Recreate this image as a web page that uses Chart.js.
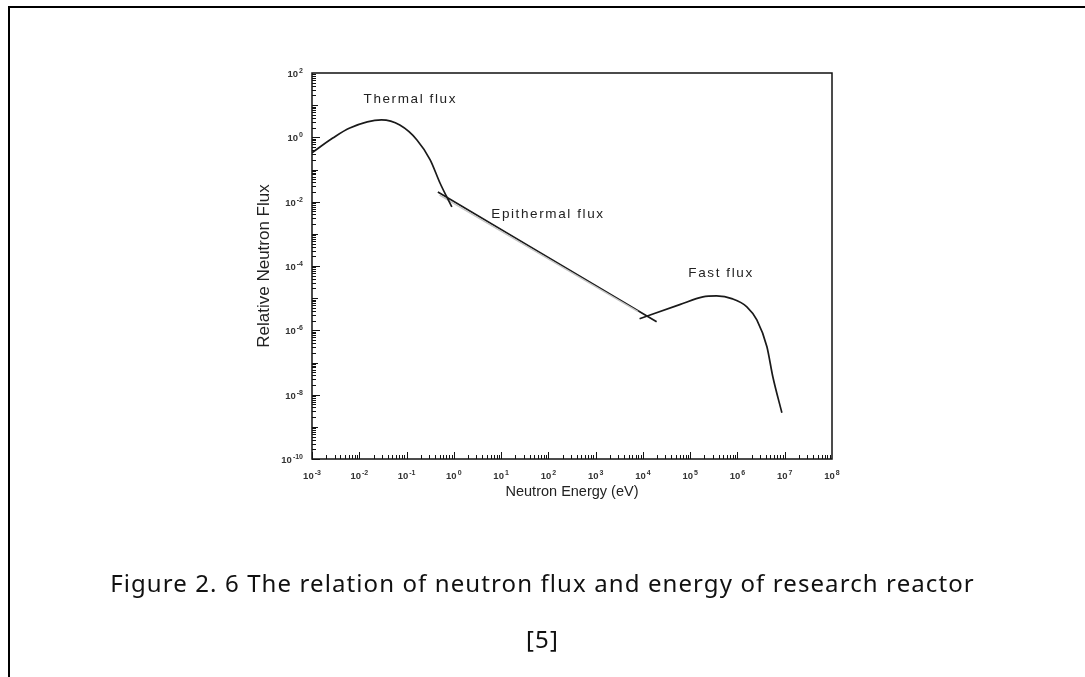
<!DOCTYPE html>
<html>
<head>
<meta charset="utf-8">
<script src="https://cdn.jsdelivr.net/npm/chart.js@4/dist/chart.umd.min.js"></script>
<style>
  body { margin: 0; background: #fff; }
  #wrap { position: relative; width: 1085px; height: 677px; overflow: hidden; }
  #chart { position: absolute; left: 0; top: 0; }
  .frameTop { position: absolute; left: 8px; top: 6px; width: 1090px; height: 2px; background: #000; }
  .frameLeft { position: absolute; left: 8px; top: 6px; width: 2px; height: 680px; background: #000; }
  .caption { position: absolute; left: 0; width: 1085px; text-align: center;
             font-family: "Noto Sans", sans-serif; font-size: 24px; letter-spacing: 1.1px; color: #111; }
</style>
</head>
<body>
<div id="wrap">
  <canvas id="chart" width="1085" height="677"></canvas>
  <div class="frameTop"></div>
  <div class="frameLeft"></div>
  <div class="caption" style="top:566px">Figure 2. 6 The relation of neutron flux and energy of research reactor</div>
  <div class="caption" style="top:622px">[5]</div>
</div>
<script>
// energies (eV) and relative flux
const thermalEnergy = [1e-3, 2.75e-3, 6.3e-3, 2.95e-2, 7.2e-2, 1.66e-1, 3.16e-1, 5.1e-1, 7.1e-1, 9.1e-1];
const thermalFlux   = [3.3e-1, 9.5e-1, 1.95, 3.47, 2.4, 8.3e-1, 2.0e-1, 3.8e-2, 1.4e-2, 6.9e-3];

const epiEnergy = [4.6e-1, 1.95e4];
const epiFlux   = [2.0e-2, 1.86e-6];

// faint second trace just under the epithermal line
const epiFitEnergy = [5.0e-1, 7.9e3];
const epiFitFlux   = [1.6e-2, 3.8e-6];

const fastEnergy = [8.5e3, 6.0e4, 1.86e5, 3.6e5, 7.9e5, 1.58e6, 2.57e6, 4.2e6, 5.6e6, 8.7e6];
const fastFlux   = [2.3e-6, 6.3e-6, 1.1e-5, 1.17e-5, 9.5e-6, 5.4e-6, 2.1e-6, 3.1e-7, 3.6e-8, 2.75e-9];

const xTickExp = [-3, -2, -1, 0, 1, 2, 3, 4, 5, 6, 7, 8];
const yTickExp = [-10, -8, -6, -4, -2, 0, 2];

const regionLabels = ["Thermal flux", "Epithermal flux", "Fast flux"];
const regionLabelX = [1.2e-1, 98, 4.5e5];
const regionLabelY = [15.5, 4.2e-3, 5.8e-5];

function pts(xs, ys) { return xs.map((x, i) => ({ x: x, y: ys[i] })); }

// draws "10" with a raised exponent; align is "center" or "right"
function powText(ctx, e, x, y, align) {
  ctx.font = "bold 9.5px 'Liberation Sans', Arial, sans-serif";
  const w1 = ctx.measureText("10").width;
  ctx.font = "bold 7px 'Liberation Sans', Arial, sans-serif";
  const w2 = ctx.measureText(String(e)).width;
  const left = align === "right" ? x - w1 - w2 - 1 : x - (w1 + w2 + 1) / 2;
  ctx.font = "bold 9.5px 'Liberation Sans', Arial, sans-serif";
  ctx.fillText("10", left, y);
  ctx.font = "bold 7px 'Liberation Sans', Arial, sans-serif";
  ctx.fillText(String(e), left + w1 + 1, y - 4);
}

// inward ticks, box, tick labels and region labels
const logFrame = {
  id: "logFrame",
  afterDraw(chart) {
    const ctx = chart.ctx, a = chart.chartArea;
    const xs = chart.scales.x, ys = chart.scales.y;
    ctx.save();
    ctx.strokeStyle = "#111";
    ctx.lineWidth = 1.5;
    ctx.strokeRect(a.left, a.top, a.right - a.left, a.bottom - a.top);
    ctx.lineWidth = 1;
    ctx.beginPath();
    for (let e = xTickExp[0]; e < xTickExp[xTickExp.length - 1]; e++) {
      for (let k = 1; k <= 9; k++) {
        const px = Math.round(xs.getPixelForValue(k * Math.pow(10, e))) + 0.5;
        const len = k === 1 ? 7 : 4;
        ctx.moveTo(px, a.bottom);
        ctx.lineTo(px, a.bottom - len);
      }
    }
    for (let e = yTickExp[0]; e < yTickExp[yTickExp.length - 1]; e++) {
      for (let k = 1; k <= 9; k++) {
        const py = Math.round(ys.getPixelForValue(k * Math.pow(10, e))) + 0.5;
        const len = k === 1 ? (e % 2 === 0 ? 8 : 6) : 4;
        ctx.moveTo(a.left, py);
        ctx.lineTo(a.left + len, py);
      }
    }
    ctx.stroke();

    ctx.fillStyle = "#333";
    ctx.textAlign = "left";
    ctx.textBaseline = "alphabetic";
    xTickExp.forEach(e => powText(ctx, e, xs.getPixelForValue(Math.pow(10, e)), a.bottom + 20, "center"));
    yTickExp.forEach(e => powText(ctx, e, a.left - 9, ys.getPixelForValue(Math.pow(10, e)) + 4, "right"));

    ctx.fillStyle = "#222";
    ctx.font = "13.5px 'Liberation Sans', Arial, sans-serif";
    ctx.letterSpacing = "1.6px";
    ctx.textAlign = "center";
    ctx.textBaseline = "middle";
    regionLabels.forEach((t, i) => {
      ctx.fillText(t, xs.getPixelForValue(regionLabelX[i]), ys.getPixelForValue(regionLabelY[i]));
    });
    ctx.restore();
  }
};

const lineStyle = { borderColor: "#1a1a1a", borderWidth: 1.7, pointRadius: 0, fill: false, tension: 0.4, cubicInterpolationMode: "monotone" };

new Chart(document.getElementById("chart"), {
  type: "line",
  data: {
    datasets: [
      Object.assign({ label: "Thermal", data: pts(thermalEnergy, thermalFlux) }, lineStyle),
      Object.assign({ label: "Epithermal fit", data: pts(epiFitEnergy, epiFitFlux) }, lineStyle, { borderColor: "#c4c4c4", borderWidth: 1.3 }),
      Object.assign({ label: "Epithermal", data: pts(epiEnergy, epiFlux) }, lineStyle),
      Object.assign({ label: "Fast", data: pts(fastEnergy, fastFlux) }, lineStyle)
    ]
  },
  options: {
    responsive: false,
    animation: false,
    layout: { padding: { left: 252, top: 73, right: 253, bottom: 173 } },
    plugins: { legend: { display: false }, tooltip: { enabled: false } },
    scales: {
      x: {
        type: "logarithmic",
        min: 1e-3, max: 1e8,
        afterBuildTicks: s => { s.ticks = xTickExp.map(e => ({ value: Math.pow(10, e) })); },
        afterFit: s => { s.height = 45; },
        grid: { display: false },
        border: { display: false },
        ticks: { display: false },
        title: { display: true, text: "Neutron Energy (eV)", color: "#222", padding: 3,
                 font: { family: "'Liberation Sans', Arial, sans-serif", size: 14.5 } }
      },
      y: {
        type: "logarithmic",
        min: 1e-10, max: 1e2,
        afterBuildTicks: s => { s.ticks = yTickExp.map(e => ({ value: Math.pow(10, e) })); },
        afterFit: s => { s.width = 60; },
        grid: { display: false },
        border: { display: false },
        ticks: { display: false },
        title: { display: true, text: "Relative Neutron Flux", color: "#222", padding: 2,
                 font: { family: "'Liberation Sans', Arial, sans-serif", size: 17 } }
      }
    }
  },
  plugins: [logFrame]
});
</script>
</body>
</html>
